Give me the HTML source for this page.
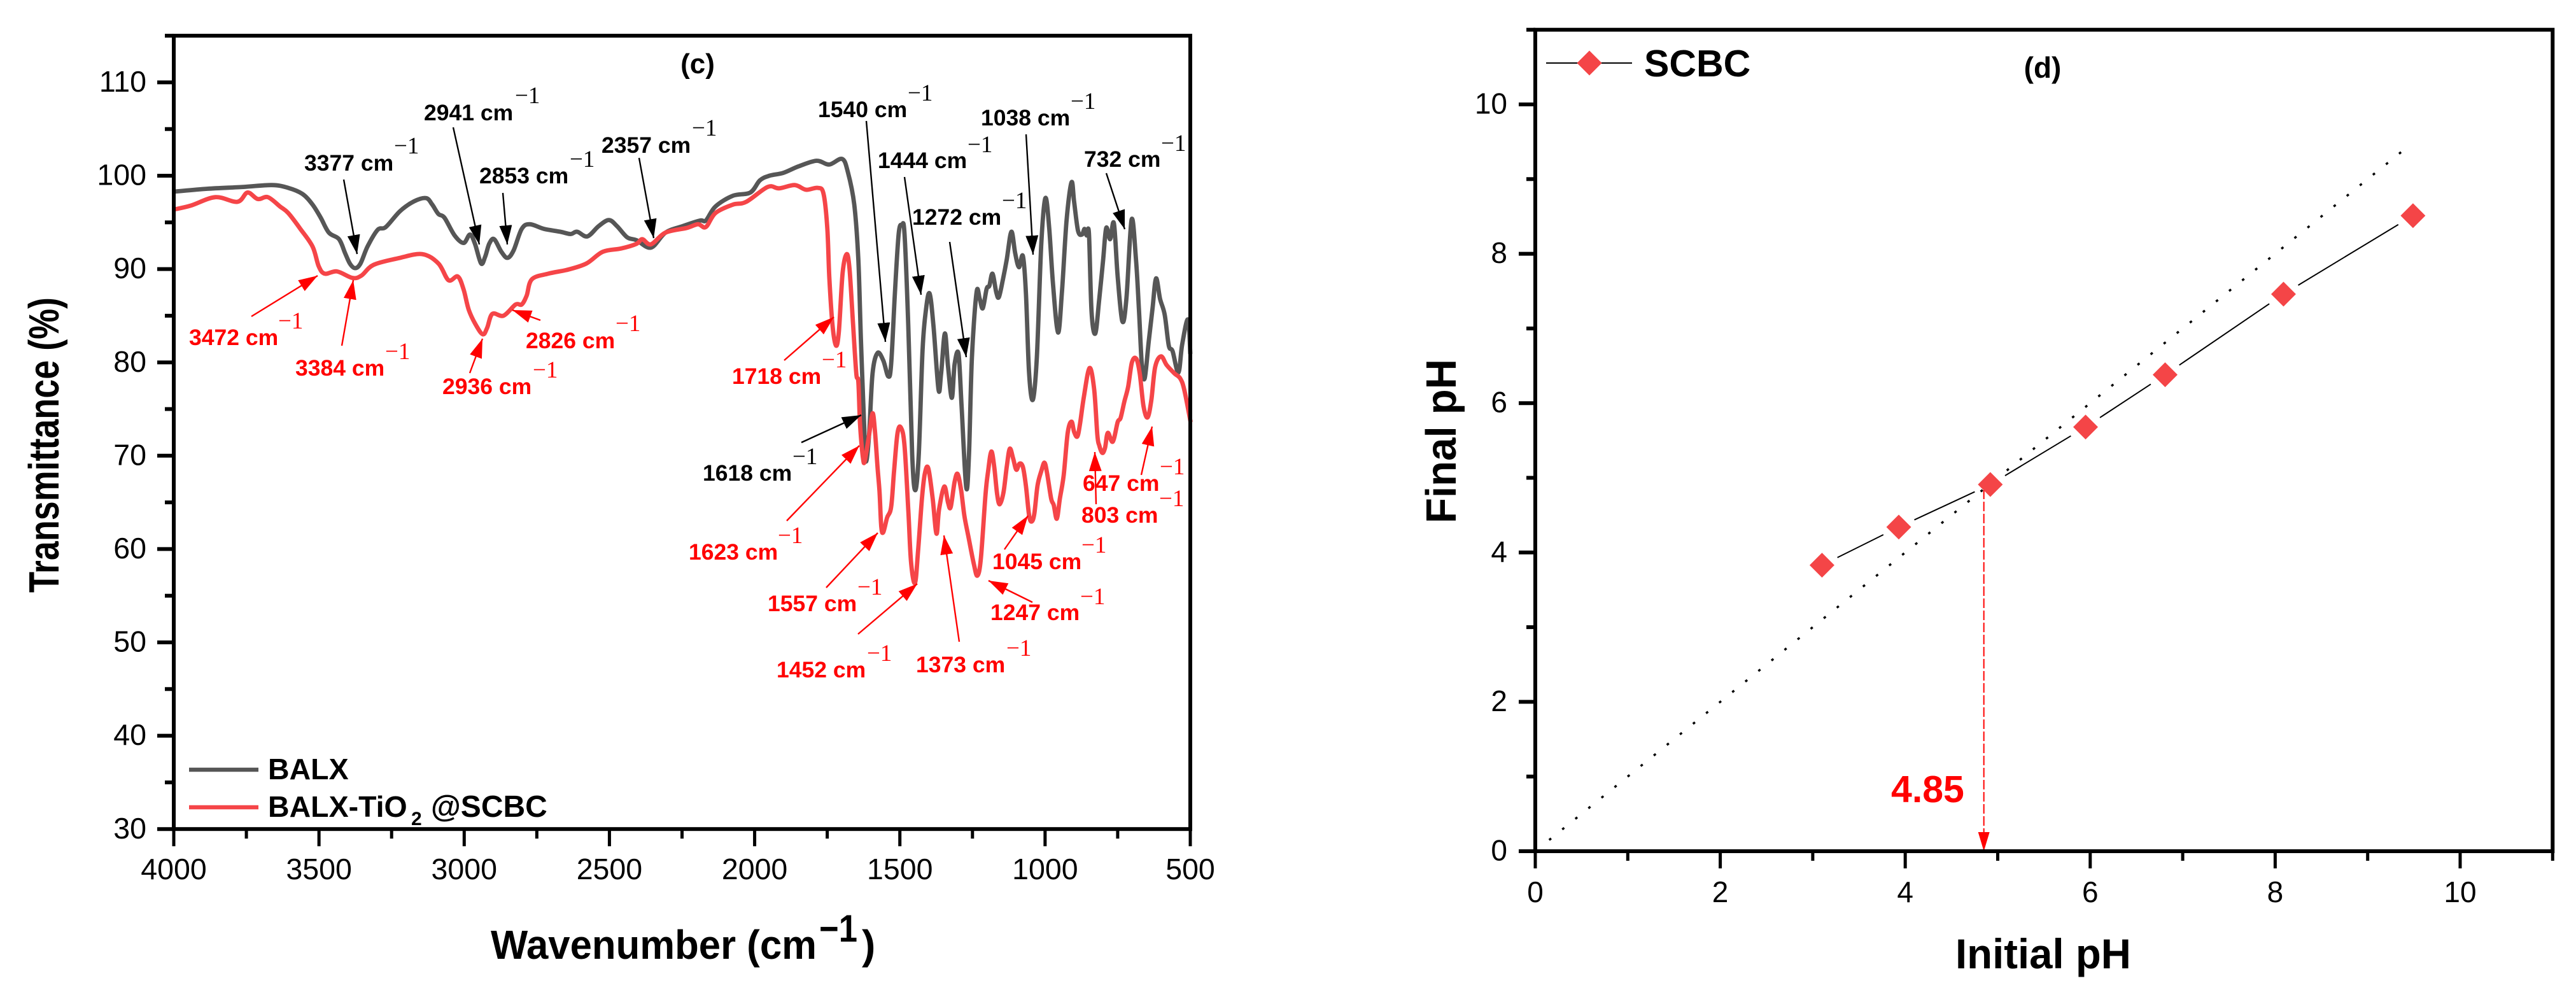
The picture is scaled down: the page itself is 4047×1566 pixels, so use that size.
<!DOCTYPE html>
<html lang="en">
<head>
<meta charset="utf-8">
<title>FTIR spectra and point of zero charge</title>
<style>
html,body{margin:0;padding:0;background:#fff;width:4047px;height:1566px;overflow:hidden}
svg{display:block}
text{font-family:"Liberation Sans",Arial,sans-serif}
.lb{font-weight:700;font-size:35.5px}
.su{font-family:"Liberation Serif","Times New Roman",serif;font-size:37px}
.k{fill:#000}
.r{fill:#f00}
</style>
</head>
<body>
<svg id="fig" xmlns="http://www.w3.org/2000/svg" width="4047" height="1566" viewBox="0 0 4047 1566">
<defs>
<marker id="ah-k" markerUnits="userSpaceOnUse" markerWidth="32" markerHeight="22" refX="30" refY="10" orient="auto"><path d="M0 0L30 10L0 20Z" fill="#000"/></marker>
<marker id="ah-r" markerUnits="userSpaceOnUse" markerWidth="32" markerHeight="22" refX="30" refY="10" orient="auto"><path d="M0 0L30 10L0 20Z" fill="#f00"/></marker>
</defs>

<g id="panel-c">
<g id="c-series"></g>
<g id="c-axes"></g>
<text x="92" y="931" transform="rotate(-90 92 931)" font-weight="700" font-size="67" textLength="464" lengthAdjust="spacingAndGlyphs">Transmittance (%)</text>
<g>
<text x="771" y="1506" font-weight="700" font-size="64" textLength="512" lengthAdjust="spacingAndGlyphs">Wavenumber (cm</text>
<text x="1287" y="1479" font-weight="700" font-size="60" textLength="60" lengthAdjust="spacingAndGlyphs">−1</text>
<text x="1354" y="1506" font-weight="700" font-size="64">)</text>
</g>
<text x="1096" y="115" text-anchor="middle" font-weight="700" font-size="44">(c)</text>

<g>
<line x1="297" y1="1209" x2="406" y2="1209" stroke="#565656" stroke-width="6.5"/>
<text x="421" y="1224" font-weight="700" font-size="46.5">BALX</text>
<line x1="297" y1="1268" x2="406" y2="1268" stroke="#f54548" stroke-width="6.5"/>
<text x="421" y="1283" font-weight="700" font-size="46.5">BALX-TiO</text>
<text x="646" y="1296" font-weight="700" font-size="30">2</text>
<text x="677" y="1283" font-weight="700" font-size="48">@SCBC</text>
</g>

<g stroke="#000" stroke-width="2.4" fill="none">
<line x1="540" y1="282" x2="561" y2="399" marker-end="url(#ah-k)"/>
<line x1="712" y1="200" x2="753" y2="384" marker-end="url(#ah-k)"/>
<line x1="790" y1="303" x2="797" y2="384" marker-end="url(#ah-k)"/>
<line x1="1004" y1="248" x2="1027" y2="374" marker-end="url(#ah-k)"/>
<line x1="1361" y1="190" x2="1391" y2="537" marker-end="url(#ah-k)"/>
<line x1="1421" y1="278" x2="1447" y2="463" marker-end="url(#ah-k)"/>
<line x1="1492" y1="380" x2="1518" y2="561" marker-end="url(#ah-k)"/>
<line x1="1612" y1="211" x2="1623" y2="400" marker-end="url(#ah-k)"/>
<line x1="1738" y1="272" x2="1767" y2="360" marker-end="url(#ah-k)"/>
<line x1="1259" y1="695" x2="1353" y2="652" marker-end="url(#ah-k)"/>
</g>
<g stroke="#f00" stroke-width="2.4" fill="none">
<line x1="395" y1="497" x2="499" y2="433" marker-end="url(#ah-r)"/>
<line x1="537" y1="543" x2="555" y2="440" marker-end="url(#ah-r)"/>
<line x1="738" y1="586" x2="758" y2="532" marker-end="url(#ah-r)"/>
<line x1="849" y1="503" x2="805" y2="487" marker-end="url(#ah-r)"/>
<line x1="1232" y1="566" x2="1310" y2="498" marker-end="url(#ah-r)"/>
<line x1="1236" y1="818" x2="1350" y2="700" marker-end="url(#ah-r)"/>
<line x1="1298" y1="923" x2="1379" y2="837" marker-end="url(#ah-r)"/>
<line x1="1348" y1="996" x2="1441" y2="917" marker-end="url(#ah-r)"/>
<line x1="1507" y1="1008" x2="1483" y2="841" marker-end="url(#ah-r)"/>
<line x1="1622" y1="946" x2="1553" y2="912" marker-end="url(#ah-r)"/>
<line x1="1578" y1="863" x2="1615" y2="810" marker-end="url(#ah-r)"/>
<line x1="1722" y1="792" x2="1720" y2="710" marker-end="url(#ah-r)"/>
<line x1="1793" y1="746" x2="1810" y2="670" marker-end="url(#ah-r)"/>
</g>

<g>
<text class="lb k" x="478" y="268">3377 cm</text><text class="su k" x="619" y="241">−1</text>
<text class="lb k" x="666" y="189">2941 cm</text><text class="su k" x="809" y="162">−1</text>
<text class="lb k" x="753" y="288">2853 cm</text><text class="su k" x="895" y="262">−1</text>
<text class="lb k" x="945" y="240">2357 cm</text><text class="su k" x="1087" y="213">−1</text>
<text class="lb k" x="1285" y="184">1540 cm</text><text class="su k" x="1426" y="158">−1</text>
<text class="lb k" x="1379" y="264">1444 cm</text><text class="su k" x="1520" y="239">−1</text>
<text class="lb k" x="1541" y="197">1038 cm</text><text class="su k" x="1682" y="171">−1</text>
<text class="lb k" x="1703" y="262">732 cm</text><text class="su k" x="1824" y="237">−1</text>
<text class="lb k" x="1433" y="353">1272 cm</text><text class="su k" x="1574" y="327">−1</text>
<text class="lb k" x="1104" y="755">1618 cm</text><text class="su k" x="1245" y="729">−1</text>
</g>
<g>
<text class="lb r" x="297" y="542">3472 cm</text><text class="su r" x="437" y="516">−1</text>
<text class="lb r" x="464" y="590">3384 cm</text><text class="su r" x="605" y="564">−1</text>
<text class="lb r" x="695" y="619">2936 cm</text><text class="su r" x="837" y="593">−1</text>
<text class="lb r" x="826" y="547">2826 cm</text><text class="su r" x="967" y="520">−1</text>
<text class="lb r" x="1150" y="603">1718 cm</text><text class="su r" x="1291" y="577">−1</text>
<text class="lb r" x="1082" y="879">1623 cm</text><text class="su r" x="1222" y="853">−1</text>
<text class="lb r" x="1206" y="960">1557 cm</text><text class="su r" x="1347" y="934">−1</text>
<text class="lb r" x="1220" y="1064">1452 cm</text><text class="su r" x="1362" y="1038">−1</text>
<text class="lb r" x="1439" y="1056">1373 cm</text><text class="su r" x="1581" y="1030">−1</text>
<text class="lb r" x="1556" y="974">1247 cm</text><text class="su r" x="1697" y="949">−1</text>
<text class="lb r" x="1559" y="894">1045 cm</text><text class="su r" x="1699" y="868">−1</text>
<text class="lb r" x="1699" y="821">803 cm</text><text class="su r" x="1821" y="795">−1</text>
<text class="lb r" x="1701" y="771">647 cm</text><text class="su r" x="1822" y="745">−1</text>
</g>
</g>

<g id="panel-d">
<g id="d-series"></g>
<g id="d-axes"></g>
<text x="2287" y="822" transform="rotate(-90 2287 822)" font-weight="700" font-size="67" textLength="258" lengthAdjust="spacingAndGlyphs">Final pH</text>
<text x="3210" y="1521" text-anchor="middle" font-weight="700" font-size="66" textLength="276" lengthAdjust="spacingAndGlyphs">Initial pH</text>
<text x="3209" y="122" text-anchor="middle" font-weight="700" font-size="46">(d)</text>
<g>
<line x1="2429" y1="99" x2="2564" y2="99" stroke="#000" stroke-width="2"/>
<path d="M2497 79.5L2516.500 99L2497 118.500L2477.500 99Z" fill="#f44547"/>
<text x="2583" y="120" font-weight="700" font-size="59">SCBC</text>
</g>
<text x="2971" y="1260" font-weight="700" font-size="59" fill="#f00">4.85</text>
</g>
</svg>

<script>
/* Panel (c) FTIR spectrum */
var ftirXMajor = [4000, 3500, 3000, 2500, 2000, 1500, 1000, 500];
var ftirXMinor = [3750, 3250, 2750, 2250, 1750, 1250, 750];
var ftirYMajor = [30, 40, 50, 60, 70, 80, 90, 100, 110];
var ftirYMinor = [35, 45, 55, 65, 75, 85, 95, 105, 115];

var balxWavenumber = [3997,3885,3760,3662,3606,3557,3522,3494,3466,3431,3410,3393,3375,3357,3333,3298,3270,3221,3173,3131,3110,3089,3068,3033,3002,2980,2963,2942,2928,2914,2897,2872,2851,2830,2802,2774,2725,2669,2634,2611,2576,2537,2502,2474,2439,2407,2357,2307,2248,2188,2168,2135,2075,2015,1982,1949,1902,1849,1787,1743,1699,1679,1657,1643,1634,1623.5,1617,1606,1594,1577,1557,1540,1530,1517,1504,1493,1484,1471,1457.5,1447,1435,1422,1411,1398,1384.5,1367,1358,1345,1334,1321,1311.5,1298,1287.5,1271.5,1262,1252,1236,1225,1214.5,1201,1192,1181,1168,1159,1145,1132,1116,1103,1090,1076.5,1066,1055,1042,1028.5,1013,999,986,973,955.5,942,926,909,900,886.5,873,864,857,849,840,827,813.5,800,789.5,776,763,750,734,720,702,687,677,667,657,643,630,618,604,588,574,561,541,528,508,500];
var balxTransmittance = [98.3,98.6,98.8,99,98.7,98.05,96.9,95.5,93.9,93.2,91.7,90.55,90.1,90.6,92.4,94.2,94.5,96.2,97.25,97.6,96.9,95.9,95.5,93.6,92.8,93.7,92.7,90.6,91.3,92.7,93.2,91.85,91.2,92,94.3,94.8,94.3,94,93.75,94,93.5,94.6,95.25,94.6,93.4,93.1,92.3,93.9,94.6,95.2,95.2,96.7,97.85,98.2,99.5,100,100.3,101,101.6,101.2,101.8,100.4,96.9,91,82.3,73.6,69.4,72.2,78.8,81,80.2,78.5,79.8,87.5,93.8,94.7,93.8,84,70.1,66.3,70.1,81.2,85.4,87.4,84,77.1,78.8,83.1,79.5,76.2,79.8,80.9,75.3,66.6,70.1,80.5,87.5,86.8,85.8,87.9,88.2,89.5,87.5,87,88.9,91,94,91.7,90.2,91.4,87.5,78.8,76,80.5,92.7,97.6,94.5,88.5,83.2,87.5,95.2,99.3,97.2,94.1,93.7,94.3,93.6,93.8,85.4,83.1,86.8,91,94.4,93.2,94.9,89.2,84.4,86.8,95.3,91,85.8,79.8,78.3,82.3,85.8,89,86.8,85.1,81.8,81.2,78.9,81.9,84.6,80.9];

var compositeWavenumber = [3997,3941,3857,3781,3746,3711,3676,3634,3606,3564,3522,3501,3480,3438,3385,3354,3312,3228,3145,3089,3054,3022,3002,2984,2956,2935,2921,2903,2865,2823,2802,2785,2767,2711,2641,2579,2523,2460,2407,2387,2357,2307,2234,2195,2168,2135,2075,2029,1955,1916,1862,1823,1783,1763,1750,1743,1732,1720,1710,1697,1683,1673,1661,1650,1643,1637,1627.5,1621,1606,1594,1586,1577,1570,1564,1557,1544,1530,1520,1508,1496,1484,1471,1461.5,1448,1437.5,1424,1414,1402,1387,1374,1365,1347,1334,1325,1311.5,1301,1289,1278,1265,1245,1233,1221,1205,1196,1185,1175,1165,1156,1143,1132,1121.5,1110,1099,1088,1076.5,1066,1055,1046,1037,1026,1013,1002,993,979,970,959.5,949,936,922,909,900,889,880,866.5,847,831,820,813.5,803,793.5,784,767,750,740,727,714,701,686,674,661,647,634,621,601,581,554,535,521,499];
var compositeTransmittance = [96.4,96.8,97.7,97.2,98.2,97.5,97.7,96.7,96,94.3,92.4,90.3,89.5,89.75,89.05,89.3,90.45,91.15,91.6,90.6,88.8,89.2,87.8,85.6,83.8,83,83.7,85.2,85,86.2,86.2,87.15,88.9,89.5,89.95,90.6,91.85,92.2,92.7,93.2,92.65,93.9,94.4,94.8,94.5,96,96.9,97.2,98.8,98.65,99,98.5,98.7,98.1,94.5,89.2,84,81.8,83.3,89.6,91.6,89.9,84,78.8,77.9,73.35,69.9,69.4,72.2,74.55,72.7,68.8,66.1,62.4,61.8,63.35,64.5,68.35,72.45,73,71.1,64.25,58.6,56.35,59.7,65.4,68.1,68.65,65.4,61.65,64.25,66.7,64.95,64.5,67.2,68.05,66.3,63.6,61.5,58.35,57.15,59,65.85,68.35,70.45,68.8,65.85,64.8,66.1,68.8,70.75,69.7,68.5,69.15,68.8,66.8,63.6,62.95,63.8,66.8,68.35,69.25,68.1,65.4,64.7,63.25,65.4,67.9,72.45,73.65,72.55,72.05,73.35,76.3,79.4,77.1,72.2,71.1,70.3,70.85,72.45,71.5,73.6,74.05,75.8,77.4,80,80.4,78.8,75.3,74.1,76,79.5,80.65,79.7,78.8,78.3,77.1,73.6];

/* Panel (d) point of zero charge */
var pzcXMajor = [0, 2, 4, 6, 8, 10];
var pzcXMinor = [1, 3, 5, 7, 9, 11];
var pzcYMajor = [0, 2, 4, 6, 8, 10];
var pzcYMinor = [1, 3, 5, 7, 9, 11];
var initialPh = [3.10, 3.93, 4.92, 5.95, 6.81, 8.09, 9.49];
var finalPh = [3.83, 4.34, 4.91, 5.68, 6.38, 7.46, 8.51];
var identityPh = [0.15, 9.48];
var pzcValue = 4.85;

var NS = 'http://www.w3.org/2000/svg';

function ftirX(w) { return 273 + (4000 - w) * (1597 / 3500); }
function ftirY(t) { return 276 + (100 - t) * 14.66; }
function pzcX(v) { return 2412 + v * 145.3; }
function pzcY(v) { return 1337 - v * 117.3; }

function make(tag, attrs, parent) {
  var el = document.createElementNS(NS, tag);
  for (var k in attrs) { el.setAttribute(k, attrs[k]); }
  parent.appendChild(el);
  return el;
}

function smoothPath(xs, ys) {
  var d = 'M' + xs[0].toFixed(1) + ' ' + ys[0].toFixed(1);
  for (var i = 0; i < xs.length - 1; i++) {
    var a = Math.max(i - 1, 0), b = Math.min(i + 2, xs.length - 1);
    var c1x = xs[i] + (xs[i + 1] - xs[a]) / 6, c1y = ys[i] + (ys[i + 1] - ys[a]) / 6;
    var c2x = xs[i + 1] - (xs[b] - xs[i]) / 6, c2y = ys[i + 1] - (ys[b] - ys[i]) / 6;
    d += 'C' + c1x.toFixed(1) + ' ' + c1y.toFixed(1) + ' ' + c2x.toFixed(1) + ' ' + c2y.toFixed(1) + ' ' + xs[i + 1].toFixed(1) + ' ' + ys[i + 1].toFixed(1);
  }
  return d;
}

function drawSpectrum(parent, wn, tr, color, name) {
  var p = make('path', {
    d: smoothPath(wn.map(ftirX), tr.map(ftirY)),
    fill: 'none', stroke: color, 'stroke-width': 6.8,
    'stroke-linejoin': 'round', 'stroke-linecap': 'butt'
  }, parent);
  
  
}

function drawAxes(parent, box, sx, sy, xMaj, xMin, yMaj, yMin, xLabY, yLabX, fontSize) {
  var frame = make('rect', {
    x: box.l, y: box.t, width: box.r - box.l, height: box.b - box.t,
    fill: 'none', stroke: '#000', 'stroke-width': 6
  }, parent);
  
  

  xMaj.forEach(function (v) {
    var t = make('line', { x1: sx(v), x2: sx(v), y1: box.b, y2: box.b + 27, stroke: '#000', 'stroke-width': 5 }, parent);
    
    
    var lab = make('text', { x: sx(v), y: xLabY, 'text-anchor': 'middle', 'font-size': fontSize }, parent);
    
    
    lab.textContent = v;
  });
  xMin.forEach(function (v) {
    var t = make('line', { x1: sx(v), x2: sx(v), y1: box.b, y2: box.b + 15, stroke: '#000', 'stroke-width': 5 }, parent);
    
    
  });
  yMaj.forEach(function (v) {
    var t = make('line', { x1: box.l - 26, x2: box.l, y1: sy(v), y2: sy(v), stroke: '#000', 'stroke-width': 6 }, parent);
    
    
    var lab = make('text', { x: yLabX, y: sy(v) + fontSize * 0.358 - 2, 'text-anchor': 'end', 'font-size': fontSize }, parent);
    
    
    lab.textContent = v;
  });
  yMin.forEach(function (v) {
    var t = make('line', { x1: box.l - 14, x2: box.l, y1: sy(v), y2: sy(v), stroke: '#000', 'stroke-width': 6 }, parent);
    
    
  });
}

var cSeries = document.getElementById('c-series');
var cAxes = document.getElementById('c-axes');
drawSpectrum(cSeries, balxWavenumber, balxTransmittance, '#565656', 'series-balx');
drawSpectrum(cSeries, compositeWavenumber, compositeTransmittance, '#f54548', 'series-balx-tio2-scbc');
drawAxes(cAxes, { l: ftirX(4000), r: ftirX(500), t: ftirY(115), b: ftirY(30) }, ftirX, ftirY,
  ftirXMajor, ftirXMinor, ftirYMajor, ftirYMinor, 1381, 230, 46.5);

var dSeries = document.getElementById('d-series');
var dAxes = document.getElementById('d-axes');

var identity = make('line', {
  x1: pzcX(identityPh[0]), y1: pzcY(identityPh[0]), x2: pzcX(identityPh[1]), y2: pzcY(identityPh[1]),
  stroke: '#000', 'stroke-width': 3.5, 'stroke-dasharray': '4 22.4'
}, dSeries);



var guide = make('line', {
  x1: pzcX(pzcValue), y1: pzcY(finalPh[2]) + 8, x2: pzcX(pzcValue), y2: pzcY(0) - 28,
  stroke: '#f00', 'stroke-width': 2, 'stroke-dasharray': '15 4'
}, dSeries);



var guideHead = make('path', {
  d: 'M' + (pzcX(pzcValue) - 9) + ' ' + (pzcY(0) - 30) + 'L' + (pzcX(pzcValue) + 9) + ' ' + (pzcY(0) - 30) + 'L' + pzcX(pzcValue) + ' ' + pzcY(0) + 'Z',
  fill: '#f00'
}, dSeries);



var GAP = 27;
for (var i = 0; i < initialPh.length - 1; i++) {
  var x1 = pzcX(initialPh[i]), y1 = pzcY(finalPh[i]);
  var x2 = pzcX(initialPh[i + 1]), y2 = pzcY(finalPh[i + 1]);
  var len = Math.hypot(x2 - x1, y2 - y1), ux = (x2 - x1) / len, uy = (y2 - y1) / len;
  var seg = make('line', {
    x1: x1 + ux * GAP, y1: y1 + uy * GAP, x2: x2 - ux * GAP, y2: y2 - uy * GAP,
    stroke: '#000', 'stroke-width': 2
  }, dSeries);
  
  
}
for (var j = 0; j < initialPh.length; j++) {
  var cx = pzcX(initialPh[j]), cy = pzcY(finalPh[j]), h = 19.5;
  var mk = make('path', {
    d: 'M' + cx + ' ' + (cy - h) + 'L' + (cx + h) + ' ' + cy + 'L' + cx + ' ' + (cy + h) + 'L' + (cx - h) + ' ' + cy + 'Z',
    fill: '#f44547'
  }, dSeries);
  
  
}
drawAxes(dAxes, { l: pzcX(0), r: pzcX(11), t: pzcY(11), b: pzcY(0) }, pzcX, pzcY,
  pzcXMajor, pzcXMinor, pzcYMajor, pzcYMinor, 1417, 2368, 46);
</script>
</body>
</html>
